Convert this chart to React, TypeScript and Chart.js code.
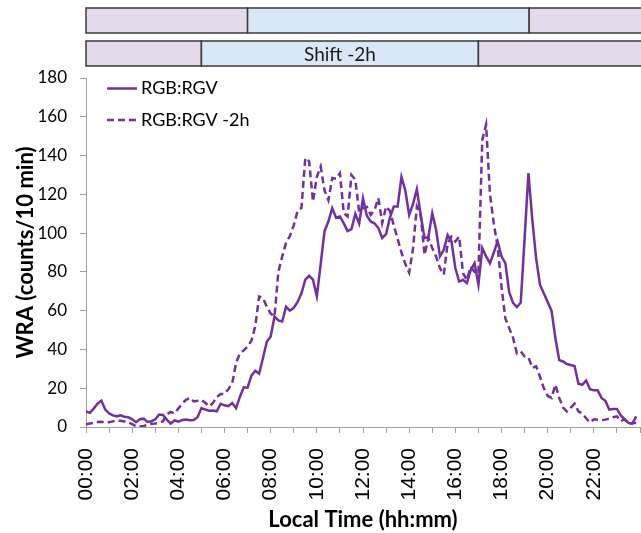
import React, { useEffect, useRef } from "react";
import { Chart, registerables } from "chart.js";

Chart.register(...registerables);

// 10-minute bins, 00:00 .. 23:50
const binsPerHour = 6;

const solidValues: number[] = [
  8.1, 7.3, 9.5, 12, 13.6, 9, 7, 6, 5.5, 6, 5.3, 5,
  4, 2.5, 4, 4.3, 2.6, 3, 4, 6.4, 6.2, 3.8, 1.8, 3.4,
  2.8, 3.6, 3.8, 3.5, 3.6, 5, 9.8, 9, 8.4, 8.5, 8.1, 12,
  11.2, 10.7, 12.4, 9.7, 15.5, 20.5, 20.3, 26.5, 29, 27.5, 35.6, 44,
  46.7, 57, 55, 54.4, 62, 60, 61.5, 64.5, 69, 76, 78, 76,
  67.4, 84, 101, 106, 112.9, 108, 108.6, 105, 101, 102, 110, 105,
  118, 109, 106, 105, 102.6, 97.5, 99.5, 108, 113.7, 113.7, 129, 122,
  109.4, 115, 122.6, 109.4, 97.4, 98, 110.3, 101.7, 88, 91.4, 99, 95.7,
  82, 75, 75.9, 74.2, 81, 84.5, 73.4, 92.3, 88, 84.5, 90, 95.7,
  88, 84.5, 69.5, 64, 61.8, 64.2, 97, 131, 107, 87, 73.4, 69,
  64.5, 60, 46, 34.5, 33.8, 32.5, 32, 31.5, 22.3, 21.8, 24, 19.5,
  18.9, 18.9, 15, 13.5, 9, 9.3, 9.3, 6, 4, 2.1, 1.7, 5.5,
];

const shiftedValues: number[] = [
  1.4, 1.8, 2.2, 2.6, 2.7, 2.4, 2.5, 2.9, 3.3, 3.2, 2.8, 2.3,
  1.5, 0.4, 0.3, 0.5, 1.2, 1.7, 1.8, 2, 3, 6.5, 7.8, 7,
  9.5, 12, 14, 15, 13.2, 13.5, 14, 12.5, 10.6, 12.4, 15.5, 17,
  17, 19.5, 22.5, 33, 38, 39.5, 41.5, 44.5, 52, 67.3, 66.5, 62,
  58.5, 57, 80, 88, 95, 98.5, 104, 111.5, 113, 138.7, 137, 116.3,
  129, 134.3, 122, 117, 128.4, 128, 130.9, 110.3, 108.6, 130, 127.5, 111,
  112.9, 113.5, 109.4, 112, 118, 105.2, 113.7, 111.4, 104, 97, 90, 84,
  79.6, 92, 113.7, 109.4, 88.8, 97.6, 92.3, 88, 82, 78.6, 94.8, 98.2,
  95.7, 98.2, 79.3, 75.9, 82.7, 80, 79.3, 148, 156, 120, 105, 93,
  72.5, 56, 51, 46, 38, 39, 36.4, 36, 30.5, 31.3, 26, 20,
  16, 15, 21.8, 15, 10, 8, 10, 12, 8, 7, 4.5, 2.4,
  4, 3.8, 3.5, 3.8, 4.3, 5, 5.5, 3, 4, 1.5, 2, 2,
];

const seriesLabels = ["RGB:RGV", "RGB:RGV -2h"];

// Shift bands (hours): boundaries of the day/night segments
const bandTopEdges = [0, 7, 19.2, 26];
const bandTopKinds = ["night", "day", "night"];
const bandBottomEdges = [0, 5, 17, 26];
const bandBottomKinds = ["night", "day", "night"];
const bandBottomLabel = "Shift -2h";

const yMin = 0;
const yMax = 180;
const yStep = 20;
const xMinHour = 0;
const xMaxHour = 24;

const PURPLE = "#7030A0";
const AXIS = "#A0A0A0";
const NIGHT = "#E5D9EC";
const DAY = "#DAE7F6";
const FONT = "Lato, 'Open Sans', sans-serif";

const hourLabel = (h: number) => (h < 10 ? "0" + h : "" + h) + ":00";

export default function App() {
  const ref = useRef<HTMLCanvasElement | null>(null);

  useEffect(() => {
    const canvas = ref.current;
    if (!canvas) return;

    const overlay = {
      id: "overlay",
      afterDraw(chart: any) {
        const ctx = chart.ctx as CanvasRenderingContext2D;
        const xs = chart.scales.x;
        const drawBand = (edges: number[], kinds: string[], top: number, bottom: number, label?: string) => {
          for (let i = 0; i < kinds.length; i++) {
            const x0 = xs.getPixelForValue(edges[i]);
            const x1 = xs.getPixelForValue(edges[i + 1]);
            ctx.save();
            ctx.fillStyle = kinds[i] === "day" ? DAY : NIGHT;
            ctx.fillRect(x0, top, x1 - x0, bottom - top);
            ctx.strokeStyle = "#3A3A3A";
            ctx.lineWidth = 1.5;
            ctx.strokeRect(x0, top, x1 - x0, bottom - top);
            if (label && kinds[i] === "day") {
              ctx.fillStyle = "#1a1a1a";
              ctx.font = `19px ${FONT}`;
              ctx.textAlign = "center";
              ctx.textBaseline = "middle";
              ctx.fillText(label, (x0 + x1) / 2, (top + bottom) / 2 + 1);
            }
            ctx.restore();
          }
        };
        drawBand(bandTopEdges, bandTopKinds, 8, 33);
        drawBand(bandBottomEdges, bandBottomKinds, 41, 66, bandBottomLabel);

        // legend
        const lx0 = 107;
        const lx1 = 137;
        const rows = [88.5, 120];
        chart.data.datasets.forEach((ds: any, i: number) => {
          const y = rows[i];
          ctx.save();
          ctx.strokeStyle = ds.borderColor;
          ctx.lineWidth = ds.borderWidth;
          ctx.setLineDash(ds.borderDash || []);
          ctx.beginPath();
          ctx.moveTo(lx0, y);
          ctx.lineTo(lx1, y);
          ctx.stroke();
          ctx.setLineDash([]);
          ctx.fillStyle = "#000";
          ctx.font = `18px ${FONT}`;
          ctx.textAlign = "left";
          ctx.textBaseline = "middle";
          ctx.fillText(ds.label, 141, y);
          ctx.restore();
        });
      },
    };

    const mk = (vals: number[]) => vals.map((v, i) => ({ x: i / binsPerHour, y: v }));

    const chart = new Chart(canvas, {
      type: "line",
      data: {
        datasets: [
          {
            label: seriesLabels[0],
            data: mk(solidValues),
            borderColor: PURPLE,
            borderWidth: 2.5,
            pointRadius: 0,
            tension: 0,
            fill: false,
          },
          {
            label: seriesLabels[1],
            data: mk(shiftedValues),
            borderColor: PURPLE,
            borderWidth: 2.5,
            borderDash: [7, 4],
            pointRadius: 0,
            tension: 0,
            fill: false,
          },
        ],
      },
      options: {
        responsive: false,
        animation: false,
        layout: { padding: { top: 78, left: 0, right: 1, bottom: 0 } },
        plugins: { legend: { display: false }, tooltip: { enabled: false } },
        scales: {
          x: {
            type: "linear",
            min: xMinHour,
            max: xMaxHour,
            ticks: {
              stepSize: 1,
              autoSkip: false,
              maxRotation: 90,
              minRotation: 90,
              padding: 15,
              color: "#000",
              font: { family: "'Liberation Sans', Arial, sans-serif", size: 21 },
              callback: (v: any) => {
                const h = Number(v);
                return h % 2 === 0 && h < 24 ? hourLabel(h) : "";
              },
            },
            grid: { drawOnChartArea: false, drawTicks: true, tickLength: 6, color: AXIS },
            border: { color: AXIS, width: 1 },
            title: {
              display: true,
              text: "Local Time (hh:mm)",
              color: "#000",
              font: { family: FONT, size: 22, weight: "bold" },
              padding: { top: 0, bottom: 0 },
            },
            afterFit: (s: any) => {
              s.height = 533 - 427;
              s.paddingLeft = 0;
              s.paddingRight = 0;
            },
          } as any,
          y: {
            min: yMin,
            max: yMax,
            ticks: {
              stepSize: yStep,
              padding: 13,
              color: "#000",
              font: { family: FONT, size: 17 },
            },
            grid: { drawOnChartArea: false, drawTicks: true, tickLength: 6, color: AXIS },
            border: { color: AXIS, width: 1 },
            title: {
              display: true,
              text: "WRA (counts/10 min)",
              color: "#000",
              font: { family: FONT, size: 22, weight: "bold" },
              padding: { top: 13, bottom: 0 },
            },
            afterFit: (s: any) => {
              s.width = 86;
              s.paddingTop = 0;
              s.paddingBottom = 0;
            },
          } as any,
        },
      },
      plugins: [overlay],
    });

    return () => chart.destroy();
  }, []);

  return (
    <div style={{ position: "fixed", left: 0, top: 0, width: 641, height: 533, background: "#fff" }}>
      <canvas ref={ref} width={641} height={533} style={{ display: "block", width: 641, height: 533 }} />
    </div>
  );
}
